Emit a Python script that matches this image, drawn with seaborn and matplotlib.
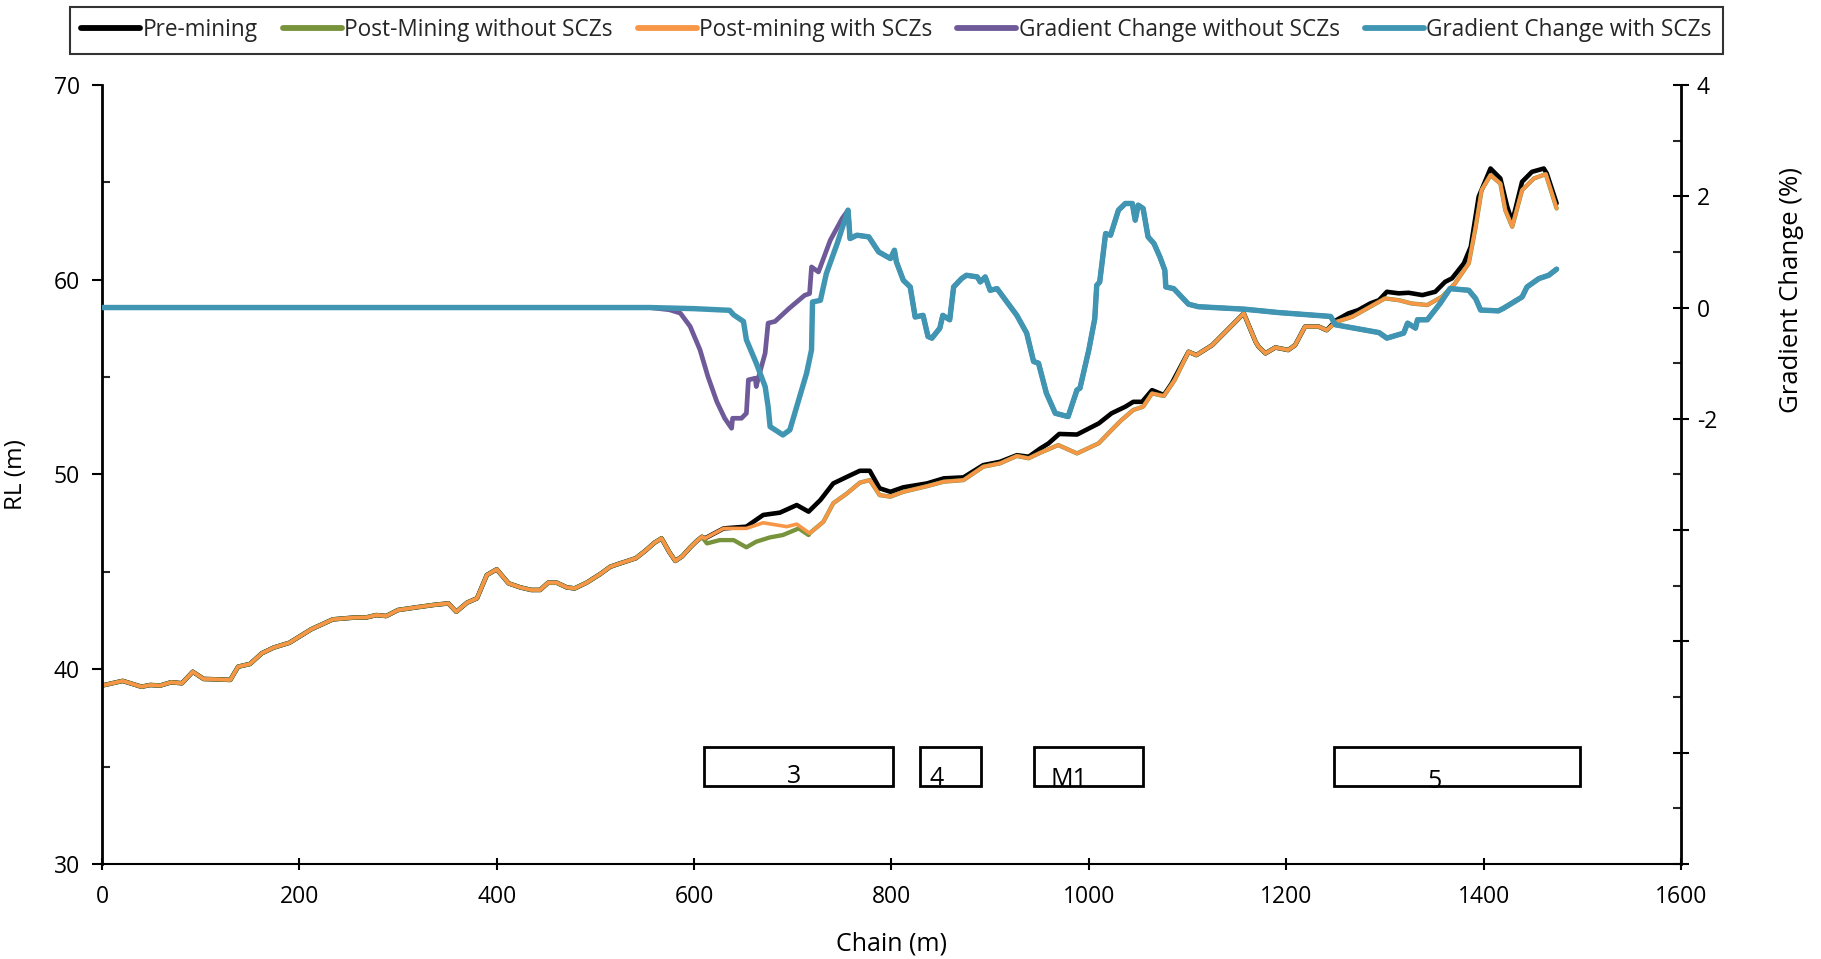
import numpy as np
import pandas as pd
import matplotlib
matplotlib.use("Agg")
import matplotlib.pyplot as plt
from matplotlib.patches import Rectangle
from matplotlib.lines import Line2D
from matplotlib.ticker import MultipleLocator, FuncFormatter
import seaborn as sns

# ---------------- data ----------------
# Ground profile shared by all three surfaces (chain m, RL m)
chain_common = [0, 21, 40, 49, 59, 70, 81, 92, 103, 116, 130, 138, 150, 162, 174, 190,
                212, 234, 255, 268, 278, 288, 300, 319, 336, 351, 359, 370, 380, 390,
                400, 412, 424, 435, 444, 452, 461, 471, 479, 491, 505, 515, 523, 532,
                541, 551, 560, 567, 575, 581, 588, 596, 602, 608]
rl_common = [39.16, 39.40, 39.10, 39.19, 39.16, 39.33, 39.28, 39.87, 39.50, 39.48, 39.45,
             40.13, 40.27, 40.82, 41.11, 41.36, 42.05, 42.56, 42.65, 42.66, 42.78, 42.73,
             43.04, 43.18, 43.30, 43.38, 42.95, 43.42, 43.64, 44.84, 45.13, 44.41, 44.20,
             44.07, 44.07, 44.44, 44.44, 44.20, 44.15, 44.44, 44.89, 45.26, 45.40, 45.55,
             45.70, 46.10, 46.50, 46.72, 46.00, 45.56, 45.80, 46.25, 46.55, 46.80]

# Pre-mining surface beyond the shared section
chain_pre = [611, 630, 653, 670, 687, 704, 716, 728, 741, 755, 768, 778, 788, 799, 812,
             836, 853, 873, 893, 910, 927, 939, 951, 959, 970, 988, 1010, 1023, 1037,
             1045, 1054, 1064, 1076, 1084, 1101, 1109, 1125, 1157, 1169, 1172, 1179, 1189,
             1202, 1209, 1219, 1233, 1241, 1251, 1263, 1273, 1285, 1294, 1302, 1314, 1324,
             1338, 1351, 1361, 1368, 1380, 1387, 1395, 1407, 1417, 1424, 1429, 1439, 1449,
             1461, 1464, 1474]
rl_pre = [46.72, 47.23, 47.32, 47.92, 48.04, 48.43, 48.09, 48.69, 49.54, 49.88, 50.19,
          50.19, 49.29, 49.11, 49.34, 49.54, 49.80, 49.85, 50.48, 50.65, 50.99, 50.91,
          51.34, 51.59, 52.08, 52.05, 52.62, 53.14, 53.48, 53.73, 53.73, 54.33, 54.08,
          54.68, 56.30, 56.13, 56.64, 58.27, 56.81, 56.56, 56.22, 56.52, 56.39, 56.64,
          57.59, 57.59, 57.41, 57.93, 58.27, 58.44, 58.78, 58.95, 59.38, 59.30, 59.33,
          59.21, 59.38, 59.89, 60.07, 60.84, 61.69, 64.26, 65.71, 65.20, 63.74, 62.97,
          65.03, 65.54, 65.71, 65.46, 63.92]

# Post-mining surface with SCZs beyond the shared section
chain_scz = [611, 630, 653, 670, 694, 704, 717, 731, 741, 755, 768, 778, 788, 799, 812,
             836, 853, 873, 893, 910, 927, 939, 951, 969, 988, 1010, 1023, 1033, 1045,
             1055, 1064, 1076, 1087, 1101, 1109, 1125, 1157, 1169, 1172, 1179, 1189, 1202,
             1209, 1219, 1233, 1241, 1251, 1267, 1285, 1300, 1314, 1327, 1343, 1358, 1371,
             1385, 1392, 1398, 1407, 1417, 1422, 1429, 1439, 1451, 1463, 1474]
rl_scz = [46.72, 47.23, 47.23, 47.52, 47.32, 47.45, 46.98, 47.57, 48.52, 49.03, 49.58,
          49.71, 48.94, 48.86, 49.11, 49.40, 49.63, 49.71, 50.40, 50.57, 50.95, 50.83,
          51.12, 51.51, 51.08, 51.60, 52.28, 52.79, 53.31, 53.48, 54.16, 54.03, 54.85,
          56.30, 56.13, 56.64, 58.27, 56.81, 56.56, 56.22, 56.52, 56.39, 56.64, 57.59,
          57.59, 57.41, 57.84, 58.10, 58.61, 59.04, 58.95, 58.78, 58.70, 59.13, 59.81,
          60.84, 62.72, 64.60, 65.37, 64.94, 63.57, 62.72, 64.60, 65.20, 65.42, 63.66]

# Post-mining surface without SCZs where it departs from the SCZ case
chain_noscz = [613, 626, 640, 653, 663, 677, 690, 706, 716]
rl_noscz = [46.46, 46.63, 46.63, 46.26, 46.55, 46.77, 46.89, 47.23, 46.89]

# Gradient change (%) with SCZs
chain_gc = [0, 555, 600, 636, 640, 650, 653, 663, 672, 675, 677, 690, 697, 706, 714, 719,
            720, 728, 734, 745, 756, 758, 765, 777, 787, 799, 803, 805, 812, 819, 824, 832,
            837, 841, 849, 852, 859, 863, 871, 876, 887, 890, 895, 900, 907, 927, 937, 944,
            949, 957, 966, 979, 988, 991, 1000, 1006, 1008, 1011, 1017, 1022, 1030, 1037,
            1044, 1047, 1050, 1055, 1060, 1066, 1072, 1077, 1078, 1086, 1101, 1111, 1158,
            1192, 1245, 1250, 1294, 1302, 1319, 1323, 1331, 1333, 1343, 1356, 1366, 1385,
            1392, 1397, 1415, 1420, 1439, 1444, 1456, 1466, 1474]
gc_scz = [0.0, 0.0, -0.02, -0.05, -0.13, -0.25, -0.58, -1.0, -1.42, -1.78, -2.14, -2.29,
          -2.2, -1.66, -1.18, -0.76, 0.10, 0.13, 0.61, 1.15, 1.75, 1.24, 1.30, 1.27, 1.0,
          0.88, 1.03, 0.82, 0.49, 0.37, -0.17, -0.14, -0.52, -0.55, -0.37, -0.14, -0.22,
          0.37, 0.52, 0.58, 0.55, 0.46, 0.55, 0.31, 0.34, -0.14, -0.46, -0.97, -1.0, -1.54,
          -1.90, -1.96, -1.48, -1.45, -0.76, -0.20, 0.40, 0.46, 1.33, 1.30, 1.75, 1.87,
          1.87, 1.57, 1.84, 1.78, 1.27, 1.15, 0.91, 0.67, 0.37, 0.34, 0.06, 0.015, -0.03,
          -0.09, -0.16, -0.31, -0.45, -0.55, -0.46, -0.28, -0.37, -0.22, -0.22, 0.075,
          0.34, 0.31, 0.16, -0.045, -0.06, -0.015, 0.19, 0.37, 0.52, 0.58, 0.69]

# Gradient change (%) without SCZs up to where it rejoins the SCZ case
chain_gn = [0, 555, 575, 586, 596, 606, 614, 623, 631, 638, 639, 648, 653, 655, 662, 663,
            665, 672, 675, 682, 696, 712, 717, 719, 726, 738, 750, 756]
gc_noscz = [0.0, 0.0, -0.04, -0.10, -0.34, -0.76, -1.24, -1.69, -1.99, -2.17, -1.99,
            -1.99, -1.90, -1.30, -1.27, -1.42, -1.27, -0.82, -0.28, -0.25, -0.02, 0.22,
            0.25, 0.73, 0.64, 1.21, 1.60, 1.75]

# Mining zones along the chain
zone_labels = ["3", "4", "M1", "5"]
zone_start = [610, 829, 944, 1248]
zone_end = [802, 891, 1055, 1498]

series_names = ["Pre-mining", "Post-Mining without SCZs", "Post-mining with SCZs",
                "Gradient Change without SCZs", "Gradient Change with SCZs"]

# ---------------- assemble full series ----------------
c_common = np.array(chain_common, float)
r_common = np.array(rl_common, float)
c_scz, r_scz = np.array(chain_scz, float), np.array(rl_scz, float)

pre = pd.DataFrame({"chain": np.r_[c_common, chain_pre], "rl": np.r_[r_common, rl_pre]})
with_scz = pd.DataFrame({"chain": np.r_[c_common, c_scz], "rl": np.r_[r_common, r_scz]})
after = c_scz > max(chain_noscz)
without_scz = pd.DataFrame({"chain": np.r_[c_common, chain_noscz, c_scz[after]],
                            "rl": np.r_[r_common, rl_noscz, r_scz[after]]})

cg, gs = np.array(chain_gc, float), np.array(gc_scz, float)
grad_with = pd.DataFrame({"chain": cg, "gc": gs})
tail = cg > max(chain_gn)
grad_without = pd.DataFrame({"chain": np.r_[chain_gn, cg[tail]],
                             "gc": np.r_[gc_noscz, gs[tail]]})

# ---------------- style ----------------
sns.set_style("white")
plt.rcParams["font.family"] = ["Open Sans", "DejaVu Sans"]
plt.rcParams["axes.unicode_minus"] = False
plt.rcParams["lines.solid_joinstyle"] = "round"
plt.rcParams["lines.solid_capstyle"] = "round"

colors = {
    "pre": "#000000",
    "nos": "#77933C",
    "scz": "#F79646",
    "gn": "#6E5A98",
    "gs": "#4096B2",
}
lws = {"pre": 3.3, "nos": 3.1, "scz": 2.6, "gn": 3.4, "gs": 3.9}

fig = plt.figure(figsize=(18.21, 9.59), dpi=100)
ax = fig.add_axes([0.0560, 0.0991, 0.8671, 0.8123])
ax2 = ax.twinx()

kw = dict(sort=False, estimator=None, legend=False)
sns.lineplot(data=pre, x="chain", y="rl", ax=ax, color=colors["pre"], lw=lws["pre"], **kw)
sns.lineplot(data=without_scz, x="chain", y="rl", ax=ax, color=colors["nos"], lw=lws["nos"], **kw)
sns.lineplot(data=with_scz, x="chain", y="rl", ax=ax, color=colors["scz"], lw=lws["scz"], **kw)
sns.lineplot(data=grad_without, x="chain", y="gc", ax=ax2, color=colors["gn"], lw=lws["gn"], **kw)
sns.lineplot(data=grad_with, x="chain", y="gc", ax=ax2, color=colors["gs"], lw=lws["gs"], **kw)

# zone boxes with labels
zone_text_x = [701, 846, 980, 1350]
zone_text_y = [34.15, 34.05, 34.0, 33.9]
for lab, x0, x1, tx, ty in zip(zone_labels, zone_start, zone_end, zone_text_x, zone_text_y):
    ax.add_patch(Rectangle((x0, 34.0), x1 - x0, 2.0, fill=False, ec="black", lw=2.0,
                           zorder=5))
    ax.text(tx, ty, lab, ha="center", va="baseline", fontsize=18, color="black", zorder=6)

# ---------------- axes ----------------
ax.set_xlim(0, 1600)
ax.set_ylim(30, 70)
ax2.set_ylim(-10, 4)

ax.xaxis.set_major_locator(MultipleLocator(200))
ax.yaxis.set_major_locator(MultipleLocator(10))
ax.yaxis.set_minor_locator(MultipleLocator(5))
ax2.yaxis.set_major_locator(MultipleLocator(2))
ax2.yaxis.set_minor_locator(MultipleLocator(1))
ax2.yaxis.set_major_formatter(FuncFormatter(lambda v, p: f"{v:g}" if v >= -2 else ""))

for a in (ax, ax2):
    a.spines["top"].set_visible(False)
ax.spines["right"].set_visible(False)
ax2.spines["left"].set_visible(False)
ax2.spines["bottom"].set_visible(False)
ax.spines["left"].set_linewidth(2.0)
ax.spines["bottom"].set_linewidth(1.5)
ax2.spines["right"].set_linewidth(2.0)
for s in ("left", "bottom"):
    ax.spines[s].set_color("black")
ax2.spines["right"].set_color("black")

ax.tick_params(axis="y", which="major", direction="out", length=7, width=1.5,
               labelsize=16.5, pad=9, colors="black", left=True)
ax.tick_params(axis="y", which="minor", direction="in", length=6, width=1.5, left=True)
ax.tick_params(axis="x", which="major", direction="inout", length=9, width=1.5,
               labelsize=16.5, pad=11, colors="black", bottom=True)
ax2.tick_params(axis="y", which="major", direction="inout", length=11, width=1.5,
                labelsize=16.5, pad=6, colors="black", right=True)
ax2.tick_params(axis="y", which="minor", direction="in", length=6, width=1.5, right=True)

ax.set_xlabel("Chain (m)", fontsize=18, color="black")
ax.set_ylabel("RL (m)", fontsize=17.5, color="black")
ax2.set_ylabel("Gradient Change (%)", fontsize=18.5, color="black")
ax.xaxis.set_label_coords(0.5, -0.087)
ax.yaxis.set_label_coords(-0.047, 0.5)
ax2.yaxis.set_label_coords(1.062, 0.737)

# ---------------- legend ----------------
keys = ["pre", "nos", "scz", "gn", "gs"]
handles = [Line2D([], [], color=colors[k], lw=4.2) for k in keys]
leg = fig.legend(handles, series_names, loc="upper center", ncol=5,
                 bbox_to_anchor=(0.4923, 0.9927), fontsize=16.3, frameon=True,
                 fancybox=False, edgecolor="black", handlelength=2.6,
                 handletextpad=0.12, columnspacing=1.1, borderpad=0.5,
                 borderaxespad=0.0)
leg.get_frame().set_linewidth(1.5)

fig.savefig("out.png", dpi=100, facecolor="white")
